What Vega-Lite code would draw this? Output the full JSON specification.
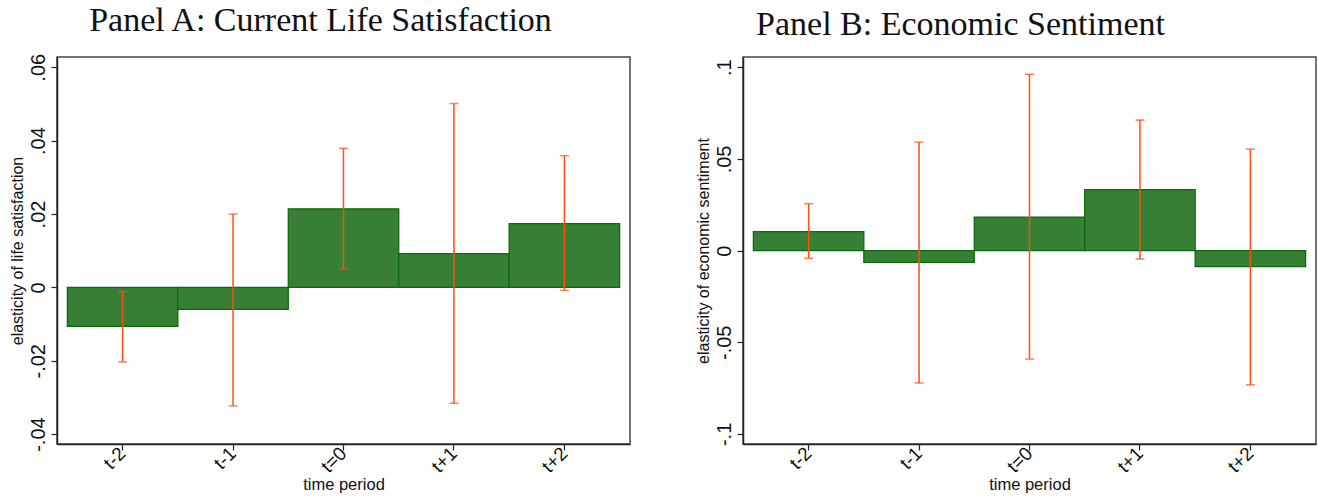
{
  "$schema": "https://vega.github.io/schema/vega-lite/v6.json",
  "background": "white",
  "padding": {"left": 8, "top": 3, "right": 2, "bottom": 3},
  "spacing": 63,
  "config": {
    "font": "Liberation Sans",
    "view": {"stroke": "#444", "strokeWidth": 1.5},
    "axis": {"domainColor": "#222", "domainWidth": 1.5, "tickColor": "#222", "tickSize": 6, "tickWidth": 1.2, "labelFont": "Liberation Sans", "labelColor": "#111", "titleFont": "Liberation Sans", "titleFontWeight": "normal", "titleColor": "#111", "grid": false},
    "title": {"font": "Liberation Serif", "fontSize": 34, "fontWeight": "normal", "color": "#111", "anchor": "middle"}
  },
  "datasets": {
    "d": [
      {"panel": "A", "period": "t-2", "coef": -0.0106, "lo": -0.0203, "hi": -0.0011},
      {"panel": "A", "period": "t-1", "coef": -0.0060, "lo": -0.0323, "hi": 0.0200},
      {"panel": "A", "period": "t=0", "coef": 0.0214, "lo": 0.0051, "hi": 0.0379},
      {"panel": "A", "period": "t+1", "coef": 0.0092, "lo": -0.0316, "hi": 0.0501},
      {"panel": "A", "period": "t+2", "coef": 0.0174, "lo": -0.0008, "hi": 0.0359},
      {"panel": "B", "period": "t-2", "coef": 0.0104, "lo": -0.0042, "hi": 0.0256},
      {"panel": "B", "period": "t-1", "coef": -0.0064, "lo": -0.0722, "hi": 0.0592},
      {"panel": "B", "period": "t=0", "coef": 0.0183, "lo": -0.0592, "hi": 0.0962},
      {"panel": "B", "period": "t+1", "coef": 0.0332, "lo": -0.0046, "hi": 0.0712},
      {"panel": "B", "period": "t+2", "coef": -0.0087, "lo": -0.0732, "hi": 0.0554}
    ]
  },
  "hconcat": [
    {
      "title": {"text": "Panel A: Current Life Satisfaction", "dx": -23, "offset": 15},
      "width": 573,
      "height": 387,
      "data": {"name": "d"},
      "transform": [{"filter": "datum.panel == 'A'"}],
      "encoding": {
        "x": {"field": "period", "type": "nominal", "sort": ["t-2", "t-1", "t=0", "t+1", "t+2"], "scale": {"paddingInner": 0, "paddingOuter": 0.094},
          "axis": {"title": "time period", "titleFontSize": 16.5, "labelFontSize": 19, "labelAngle": -45, "labelAlign": "right", "labelBaseline": "middle", "labelPadding": 0, "titlePadding": 0}}
      },
      "layer": [
        {"mark": {"type": "bar", "fill": "#367f35", "stroke": "#0d6b0d", "strokeWidth": 1.3},
         "encoding": {"y": {"field": "coef", "type": "quantitative", "scale": {"domain": [-0.0427, 0.0628], "nice": false, "zero": false},
            "axis": {"title": "elasticity of life satisfaction", "titleFontSize": 16, "values": [-0.04, -0.02, 0, 0.02, 0.04, 0.06], "labelExpr": "datum.value == 0 ? '0' : replace(replace(format(datum.value, '.2~f'), '0.', '.'), '\u2212', '-')", "labelFontSize": 20, "labelAngle": -90, "labelAlign": "center", "labelBaseline": "bottom", "labelPadding": 3, "titlePadding": 3}},
           "y2": {"datum": 0}}},
        {"mark": {"type": "rule", "color": "#ff4e14", "strokeWidth": 1.5},
         "encoding": {"y": {"field": "lo", "type": "quantitative"}, "y2": {"field": "hi"}}},
        {"mark": {"type": "tick", "color": "#ff4e14", "thickness": 1.5, "size": 9},
         "encoding": {"y": {"field": "lo", "type": "quantitative"}}},
        {"mark": {"type": "tick", "color": "#ff4e14", "thickness": 1.5, "size": 9},
         "encoding": {"y": {"field": "hi", "type": "quantitative"}}}
      ]
    },
    {
      "title": {"text": "Panel B: Economic Sentiment", "dx": -69, "offset": 15},
      "width": 573,
      "height": 387,
      "data": {"name": "d"},
      "transform": [{"filter": "datum.panel == 'B'"}],
      "encoding": {
        "x": {"field": "period", "type": "nominal", "sort": ["t-2", "t-1", "t=0", "t+1", "t+2"], "scale": {"paddingInner": 0, "paddingOuter": 0.094},
          "axis": {"title": "time period", "titleFontSize": 16.5, "labelFontSize": 19, "labelAngle": -45, "labelAlign": "right", "labelBaseline": "middle", "labelPadding": 0, "titlePadding": 0}}
      },
      "layer": [
        {"mark": {"type": "bar", "fill": "#367f35", "stroke": "#0d6b0d", "strokeWidth": 1.3},
         "encoding": {"y": {"field": "coef", "type": "quantitative", "scale": {"domain": [-0.1055, 0.1056], "nice": false, "zero": false},
            "axis": {"title": "elasticity of economic sentiment", "titleFontSize": 16, "values": [-0.1, -0.05, 0, 0.05, 0.1], "labelExpr": "datum.value == 0 ? '0' : replace(replace(format(datum.value, '.2~f'), '0.', '.'), '\u2212', '-')", "labelFontSize": 20, "labelAngle": -90, "labelAlign": "center", "labelBaseline": "bottom", "labelPadding": 3, "titlePadding": 3}},
           "y2": {"datum": 0}}},
        {"mark": {"type": "rule", "color": "#ff4e14", "strokeWidth": 1.5},
         "encoding": {"y": {"field": "lo", "type": "quantitative"}, "y2": {"field": "hi"}}},
        {"mark": {"type": "tick", "color": "#ff4e14", "thickness": 1.5, "size": 9},
         "encoding": {"y": {"field": "lo", "type": "quantitative"}}},
        {"mark": {"type": "tick", "color": "#ff4e14", "thickness": 1.5, "size": 9},
         "encoding": {"y": {"field": "hi", "type": "quantitative"}}}
      ]
    }
  ]
}
